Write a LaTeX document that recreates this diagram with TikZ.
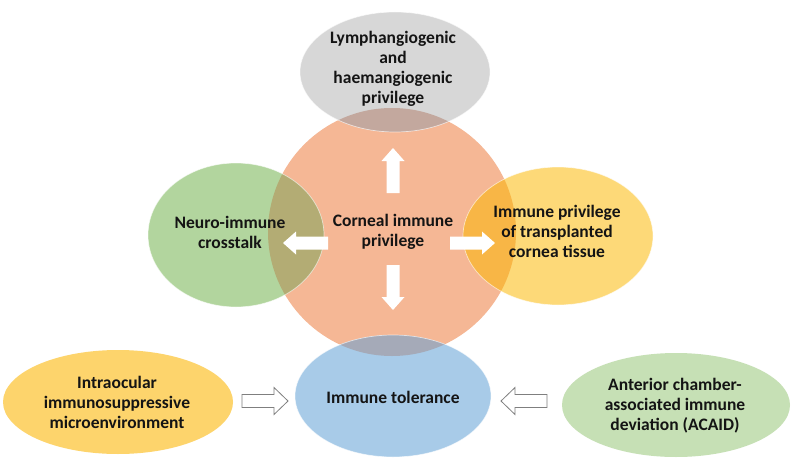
\documentclass[tikz,border=0pt]{standalone}
\usepackage{fontspec}
\setmainfont{Carlito}
\definecolor{orangeC}{HTML}{F5B795}
\definecolor{grayC}{HTML}{D7D7D7}
\definecolor{greenL}{HTML}{B2D59E}
\definecolor{yellowR}{HTML}{FDD978}
\definecolor{blueC}{HTML}{A8CBE8}
\definecolor{yellowBL}{HTML}{FDD46C}
\definecolor{greenBR}{HTML}{C6E0B5}
\definecolor{ovGray}{HTML}{C3A89E}
\definecolor{ovGreen}{HTML}{B3AC74}
\definecolor{ovYellow}{HTML}{F8B646}
\definecolor{ovBlue}{HTML}{A5AAB8}
\definecolor{txt}{HTML}{141414}
\definecolor{arrowline}{HTML}{7F7F7F}
\begin{document}
\begin{tikzpicture}[x=1pt,y=-1pt,
  label/.style={font=\fontsize{17.5}{20}\selectfont\bfseries, text=txt, align=center, inner sep=0pt},
  edge/.style={draw=white, draw opacity=0.6, line width=0.7pt},
  warrow/.pic={\fill[white] (0,-6.5) -- (32,-6.5) -- (32,-11.5) -- (45,0) -- (32,11.5) -- (32,6.5) -- (0,6.5) -- cycle;},
  oarrow/.pic={\filldraw[fill=white, draw=arrowline, line width=0.8pt] (0,-6.5) -- (32,-6.5) -- (32,-13.5) -- (46,0) -- (32,13.5) -- (32,6.5) -- (0,6.5) -- cycle;}]
\useasboundingbox (0,0) rectangle (792,460);
\fill[white] (0,0) rectangle (792,460);
% shapes
\fill[orangeC] (392,232) circle[radius=124];
\fill[grayC] (395,72) ellipse[x radius=95, y radius=60];
\fill[greenL] (236,235) ellipse[x radius=88, y radius=72];
\fill[yellowR] (558,236) ellipse[x radius=95, y radius=69];
\fill[blueC] (393,396) ellipse[x radius=98, y radius=61];
\fill[yellowBL] (118,402) ellipse[x radius=115, y radius=52];
\fill[greenBR] (676,405) ellipse[x radius=114, y radius=52];
% overlaps
\begin{scope}
  \clip (392,232) circle[radius=124];
  \fill[ovGray] (395,72) ellipse[x radius=95, y radius=60];
  \fill[ovGreen] (236,235) ellipse[x radius=88, y radius=72];
  \fill[ovYellow] (558,236) ellipse[x radius=95, y radius=69];
  \fill[ovBlue] (393,396) ellipse[x radius=98, y radius=61];
\end{scope}
% outlines
\path[edge] (395,72) ellipse[x radius=95, y radius=60];
\path[edge] (236,235) ellipse[x radius=88, y radius=72];
\path[edge] (558,236) ellipse[x radius=95, y radius=69];
\path[edge] (393,396) ellipse[x radius=98, y radius=61];
% white arrows
\pic[rotate=90] at (393,193) {warrow};
\pic[rotate=-90] at (393,265) {warrow};
\pic[rotate=180] at (328,243) {warrow};
\pic at (450,243) {warrow};
% open arrows
\pic at (242,401) {oarrow};
\pic[rotate=180] at (547,401) {oarrow};
% texts
\node[label] (top) at (393,69) {\fontsize{17.5}{19}\selectfont Lymphangiogenic\\and\\haemangiogenic\\privilege};
\node[label] (core) at (393,232) {Corneal immune\\privilege};
\node[label] (neuro) at (230,232) {Neuro-immune\\crosstalk};
\node[label] (graft) at (557,231) {Immune privilege\\of transplanted\\cornea tissue};
\node[label] (tol) at (393,397) {Immune tolerance};
\node[label] (intra) at (117,402) {Intraocular\\immunosuppressive\\microenvironment};
\node[label] (acaid) at (675,406) {Anterior chamber-\\associated immune\\deviation (ACAID)};
\end{tikzpicture}
\end{document}
